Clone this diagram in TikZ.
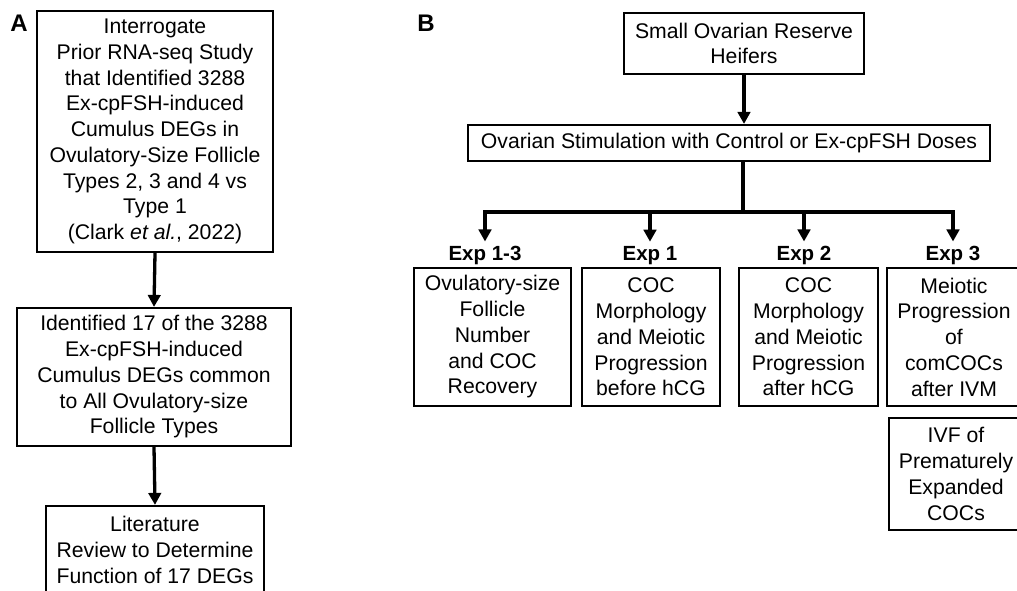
\documentclass[tikz,border=0pt]{standalone}
\usepackage{fontspec}
\setmainfont{Liberation Sans}
\usetikzlibrary{arrows.meta,calc}
\begin{document}
\begin{tikzpicture}[x=1pt,y=-1pt,
  box/.style={draw, line width=2.2pt, inner sep=0pt, align=center,
    font=\fontsize{21.2}{25.75}\selectfont},
  arr/.style={line width=3.3pt, -{Triangle[width=12.5pt,length=12pt]}},
  conn/.style={line width=3.3pt},
  panel/.style={font=\fontsize{24}{28}\selectfont\bfseries, inner sep=0pt},
  explab/.style={font=\fontsize{20.5}{24}\selectfont\bfseries, inner sep=0pt, anchor=base}]
\useasboundingbox (0,0) rectangle (1017,591);
\clip (0,0) rectangle (1017,591);
% panel labels
\node[panel] (pA) at (19,23) {A};
\node[panel] (pB) at (426,23) {B};
% panel A
\node[box, minimum width=236pt, minimum height=241pt] (a1) at (155,131.5)
  {Interrogate\\Prior RNA-seq Study\\that Identified 3288\\Ex-cpFSH-induced\\Cumulus DEGs in\\Ovulatory-Size Follicle\\Types 2, 3 and 4 vs\\Type 1\\(Clark \textit{et al.}, 2022)};
\node[box, minimum width=274pt, minimum height=138pt] (a2) at (154,377)
  {Identified 17 of the 3288\\Ex-cpFSH-induced\\Cumulus DEGs common\\to All Ovulatory-size\\Follicle Types};
\node[box, minimum width=218pt, minimum height=88pt] (a3) at (155,550)
  {Literature\\Review to Determine\\Function of 17 DEGs};
\draw[arr] (a1.south) -- (a2.north);
\draw[arr] (a2.south) -- (a3.north);
% panel B
\node[box, minimum width=240pt, minimum height=61pt] (small) at (744,43.5)
  {Small Ovarian Reserve\\Heifers};
\node[box, minimum width=522pt, minimum height=36pt] (stim) at (729,143)
  {Ovarian Stimulation with Control or Ex-cpFSH Doses};
\draw[arr] (small.south) -- (small.south |- stim.north);
\coordinate (jn) at (743,212);
\draw[conn] (jn |- stim.south) -- (jn);
\node[explab] (l13) at (485,260) {Exp 1-3};
\node[explab] (l1) at (650,260) {Exp 1};
\node[explab] (l2) at (804,260) {Exp 2};
\node[explab] (l3) at (953,260) {Exp 3};
\draw[arr, shorten >=4pt] (jn) -| (l13.north);
\draw[arr, shorten >=4pt] (jn) -| (l1.north);
\draw[arr, shorten >=4pt] (jn) -| (l2.north);
\draw[arr, shorten >=4pt] (jn) -| (l3.north);
\node[box, minimum width=157pt, minimum height=138pt] (e13) at (492.5,337)
  {Ovulatory-size\\Follicle\\Number\\and COC\\Recovery};
\node[box, minimum width=138pt, minimum height=138pt] (e1) at (651,337)
  {COC\\Morphology\\and Meiotic\\Progression\\before hCG};
\node[box, minimum width=139pt, minimum height=138pt] (e2) at (808.5,337)
  {COC\\Morphology\\and Meiotic\\Progression\\after hCG};
\node[box, minimum width=134pt, minimum height=138pt] (e3) at (954,337)
  {Meiotic\\Progression\\of\\comCOCs\\after IVM};
\node[box, minimum width=134pt, minimum height=112pt] (ivf) at (956,474)
  {IVF of\\Prematurely\\Expanded\\COCs};
\end{tikzpicture}
\end{document}
